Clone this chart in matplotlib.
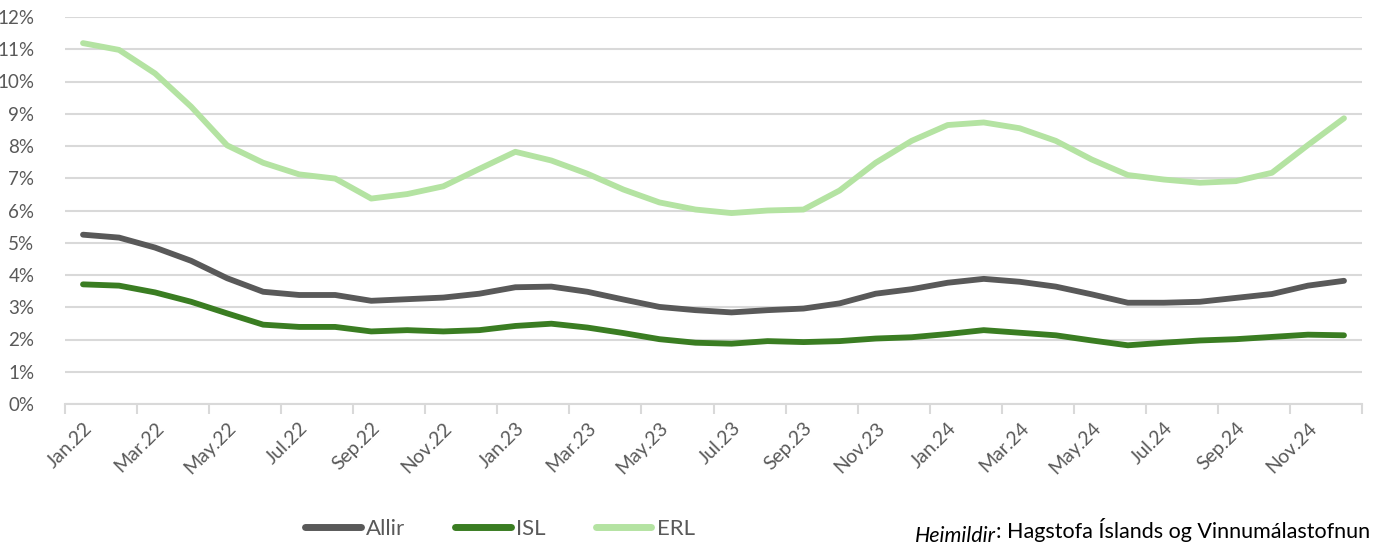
import matplotlib
matplotlib.use("Agg")
import matplotlib.pyplot as plt
from matplotlib.lines import Line2D

plt.rcParams['font.family'] = ['Lato', 'DejaVu Sans']

months = ["Jan", "Feb", "Mar", "Apr", "May", "Jun", "Jul", "Aug", "Sep", "Oct", "Nov", "Dec"]
categories = [f"{m}.{y}" for y in ("22", "23", "24") for m in months]

allir = [5.25, 5.16, 4.85, 4.44, 3.90, 3.48, 3.38, 3.38, 3.20, 3.25, 3.30, 3.42,
         3.62, 3.64, 3.48, 3.24, 3.01, 2.91, 2.84, 2.91, 2.96, 3.12, 3.42, 3.56,
         3.76, 3.88, 3.79, 3.64, 3.40, 3.14, 3.14, 3.17, 3.29, 3.41, 3.67, 3.82]
isl = [3.71, 3.67, 3.46, 3.17, 2.81, 2.46, 2.39, 2.39, 2.25, 2.29, 2.25, 2.29,
       2.42, 2.49, 2.37, 2.20, 2.01, 1.90, 1.87, 1.95, 1.92, 1.95, 2.03, 2.07,
       2.17, 2.29, 2.21, 2.13, 1.97, 1.82, 1.90, 1.97, 2.01, 2.08, 2.15, 2.13]
erl = [11.19, 10.98, 10.25, 9.22, 8.02, 7.48, 7.12, 6.99, 6.37, 6.51, 6.75, 7.29,
       7.82, 7.55, 7.14, 6.65, 6.25, 6.03, 5.92, 6.00, 6.03, 6.62, 7.48, 8.16,
       8.65, 8.73, 8.55, 8.16, 7.58, 7.10, 6.96, 6.86, 6.91, 7.17, 8.03, 8.86]

series_names = ["Allir", "ISL", "ERL"]
colors = ["#595959", "#3a7d22", "#b4e3a2"]
yticks = list(range(0, 13))

text_color = "#595959"
grid_color = "#d9d9d9"
wt = 'normal'

fig = plt.figure(figsize=(13.75, 5.44), dpi=100)
ax = fig.add_axes([65 / 1375, 1 - 404 / 544, (1362 - 65) / 1375, (404 - 17) / 544])

x = list(range(len(categories)))
for name, vals, c in zip(series_names, [allir, isl, erl], colors):
    ax.plot(x, vals, color=c, lw=4.2, solid_capstyle='round', solid_joinstyle='round', label=name, zorder=3)

ax.set_xlim(-0.5, len(categories) - 0.5)
ax.set_ylim(0, 12)
ax.set_yticks(yticks)
ax.set_yticklabels([f"{v}%" for v in yticks], fontsize=13.5, color=text_color, fontweight=wt)
ax.yaxis.grid(True, color=grid_color, lw=1.5)
ax.set_axisbelow(True)
ax.tick_params(axis='y', length=0, pad=22)

# x ticks: boundaries every 2 months as marks, labels at every other category
ax.set_xticks([i - 0.5 for i in range(0, len(categories) + 1, 2)])
ax.set_xticklabels([])
ax.tick_params(axis='x', which='major', length=7, width=1.5, color=grid_color)
ax.set_xticks(x[::2], minor=True)
ax.set_xticklabels(categories[::2], minor=True, rotation=45, ha='right',
                   rotation_mode='anchor', fontsize=14, color=text_color, fontweight=wt)
ax.tick_params(axis='x', which='minor', length=0, pad=11)

for s in ['top', 'right', 'left']:
    ax.spines[s].set_visible(False)
ax.spines['bottom'].set_color(grid_color)
ax.spines['bottom'].set_linewidth(1.5)

handles = [Line2D([0], [0], color=c, lw=5, solid_capstyle='round') for c in colors]
leg = fig.legend(handles, series_names, loc='center', bbox_to_anchor=(500 / 1375, 1 - 529 / 544),
                 ncol=3, frameon=False, handlelength=2.5, handletextpad=0.25,
                 columnspacing=2.25, labelcolor=text_color,
                 prop={'size': 16, 'weight': wt})

src = fig.text(1370 / 1375, 1 - 538 / 544, ": Hagstofa Íslands og Vinnumálastofnun",
               ha='right', va='baseline', fontsize=15.5, color='#000000', fontweight=wt)
fig.canvas.draw()
ax.annotate("Heimildir", xy=(0, 0), xycoords=src, ha='right', va='baseline',
            fontsize=15.5, style='italic', color='#000000', fontweight=wt,
            annotation_clip=False)

fig.savefig("out.png", dpi=100)
